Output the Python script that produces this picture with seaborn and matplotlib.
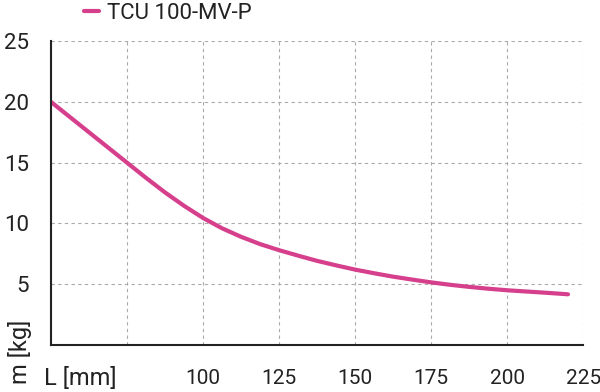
import matplotlib
matplotlib.use("Agg")
import matplotlib.pyplot as plt
import pandas as pd
import seaborn as sns

# values
length_mm = [50, 56.25, 62.5, 68.75, 75, 81.25, 87.5, 93.75, 100, 106.25, 112.5,
             118.75, 125, 131.25, 137.5, 143.75, 150, 156.25, 162.5, 168.75, 175,
             181.25, 187.5, 193.75, 200, 206.25, 212.5, 220]
mass_kg = [20.0, 18.75, 17.5, 16.25, 15.0, 13.75, 12.55, 11.45, 10.45, 9.6, 8.9,
           8.3, 7.8, 7.35, 6.92, 6.55, 6.2, 5.9, 5.62, 5.38, 5.15,
           4.95, 4.78, 4.63, 4.5, 4.4, 4.3, 4.17]
series_name = "TCU 100-MV-P"
x_ticks = [50, 75, 100, 125, 150, 175, 200, 225]
x_tick_labels = ["", "", "100", "125", "150", "175", "200", "225"]
y_ticks = [0, 5, 10, 15, 20, 25]
y_tick_labels = ["", "5", "10", "15", "20", "25"]

LINE_COLOR = "#d63f8c"
TEXT_COLOR = "#222222"


def main() -> None:
    sns.set_theme(style="white")
    plt.rcParams["font.family"] = ["Roboto", "DejaVu Sans"]

    df = pd.DataFrame({"L": length_mm, "m": mass_kg, "series": series_name})

    fig = plt.figure(figsize=(6.0, 3.92), dpi=100)
    ax = fig.add_axes([0.085, 0.12, 0.887, 0.775])

    sns.lineplot(data=df, x="L", y="m", hue="series", palette=[LINE_COLOR],
                 linewidth=3, ax=ax, legend=True)

    ax.set_xlim(50, 225)
    ax.set_ylim(0, 25)
    ax.set_xticks(x_ticks)
    ax.set_xticklabels(x_tick_labels)
    ax.set_yticks(y_ticks)
    ax.set_yticklabels(y_tick_labels)
    ax.set_xlabel("")
    ax.set_ylabel("")

    ax.grid(True, color="#aaaaaa", linestyle=(0, (3, 3)), linewidth=0.8)
    for side in ("top", "right"):
        ax.spines[side].set_visible(False)
    for side in ("left", "bottom"):
        ax.spines[side].set_color(TEXT_COLOR)
        ax.spines[side].set_linewidth(1.5)

    ax.tick_params(axis="both", direction="out", length=6, width=1.5,
                   color=TEXT_COLOR, labelsize=16, labelcolor=TEXT_COLOR)
    ax.tick_params(axis="y", pad=10)
    ax.tick_params(axis="x", pad=11, labelsize=15)

    fig.text(0.073, 0.005, "L [mm]", fontsize=17, color=TEXT_COLOR,
             ha="left", va="bottom")
    fig.text(0.013, 0.02, "m [kg]", fontsize=17, color=TEXT_COLOR,
             rotation=90, ha="left", va="bottom")

    leg = ax.legend(loc="upper left", bbox_to_anchor=(0.125, 1.015),
                    bbox_transform=fig.transFigure, frameon=False,
                    fontsize=16, handlelength=0.7, handletextpad=0.35,
                    borderaxespad=0)
    for text in leg.get_texts():
        text.set_color(TEXT_COLOR)

    fig.savefig("out.png", dpi=100)
    plt.close(fig)


if __name__ == "__main__":
    main()
